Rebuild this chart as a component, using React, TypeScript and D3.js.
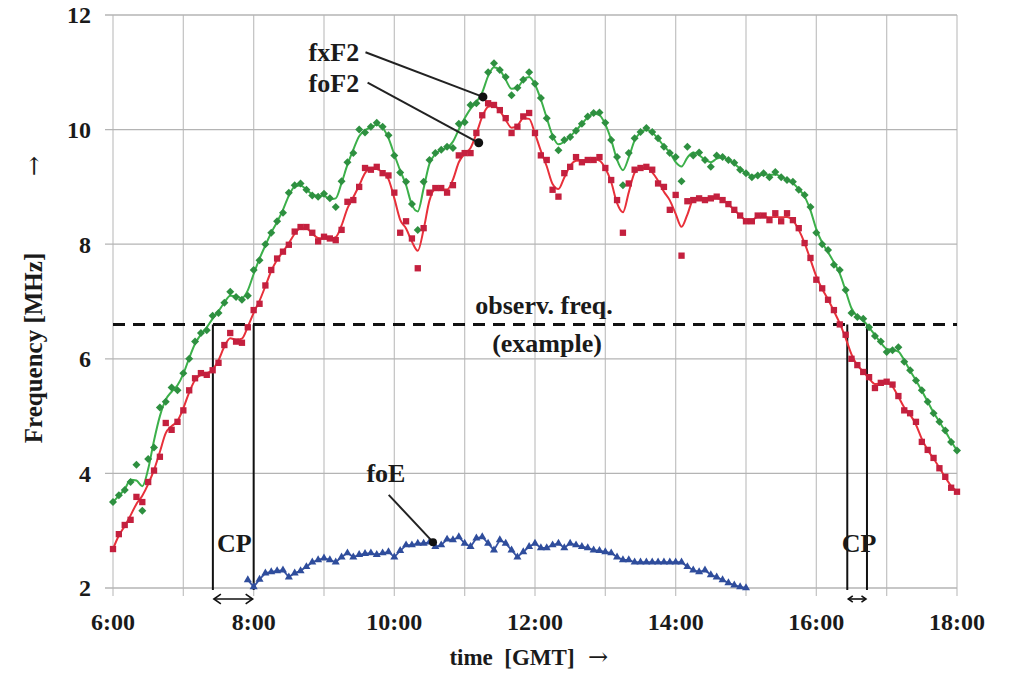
import React from 'react';
import * as d3 from 'd3';

// samples every 5 minutes starting at 6:00 GMT
const startHour = 6;
const stepMinutes = 5;

// fxF2 (green diamonds), MHz
const fxF2 = [
  3.5, 3.62, 3.71, 3.85, 4.15, 3.35, 4.25, 4.45, 5.15, 5.25, 5.5, 5.45,
  5.75, 6.0, 6.3, 6.45, 6.5, 6.75, 6.8, 6.98, 7.17, 7.08, 7.03, 7.1,
  7.55, 7.72, 8.0, 8.2, 8.4, 8.55, 8.9, 9.03, 9.06, 8.95, 8.85, 8.83,
  8.88, 8.8, 8.65, 9.1, 9.43, 9.59, 10.0, 9.95, 10.05, 10.12, 10.05, 9.9,
  9.55, 9.25, 9.09, 8.7, 8.25, 9.09, 9.47, 9.59, 9.65, 9.7, 9.68, 10.1,
  10.13, 10.43, 10.46, 10.57, 11.0, 11.16, 11.04, 10.92, 10.6, 10.73, 10.87, 11.0,
  10.8, 10.55, 10.2, 9.87, 9.64, 9.82, 9.87, 9.98, 10.1, 10.23, 10.29, 10.3,
  10.12, 9.82, 9.52, 9.03, 9.59, 9.85, 9.96, 10.03, 9.96, 9.85, 9.7, 9.59,
  9.52, 9.1, 9.7, 9.55, 9.6, 9.47, 9.35, 9.55, 9.52, 9.47, 9.42, 9.3,
  9.24, 9.17, 9.2, 9.24, 9.17, 9.26, 9.17, 9.12, 9.09, 8.95, 8.86, 8.65,
  8.2, 8.0, 7.9, 7.64, 7.55, 7.2, 6.8, 6.73, 6.7, 6.55, 6.4, 6.3,
  6.12, 6.15, 6.2, 5.95, 5.8, 5.62, 5.45, 5.25, 5.05, 4.9, 4.75, 4.55,
  4.4,
];

// foF2 (red squares), MHz
const foF2 = [
  2.68, 2.94, 3.1, 3.19, 3.59, 3.5, 3.85, 4.05, 4.29, 4.88, 4.76, 4.9,
  5.1, 5.45, 5.66, 5.75, 5.72, 5.8, 5.93, 6.24, 6.45, 6.3, 6.28, 6.55,
  6.85, 6.96, 7.28, 7.55, 7.75, 7.87, 7.99, 8.22, 8.3, 8.3, 8.2, 8.05,
  8.13, 8.1, 8.07, 8.25, 8.74, 8.77, 9.0, 9.33, 9.3, 9.35, 9.24, 9.2,
  8.9, 8.2, 8.4, 8.1, 7.58, 8.28, 8.9, 8.98, 8.98, 8.9, 9.03, 9.55,
  9.59, 9.59, 9.94, 10.25, 10.46, 10.43, 10.34, 10.2, 9.94, 10.05, 10.23, 10.29,
  9.94, 9.55, 9.47, 8.95, 8.83, 9.24, 9.35, 9.52, 9.43, 9.47, 9.47, 9.52,
  9.33, 9.12, 8.77, 8.2, 9.06, 9.3, 9.33, 9.35, 9.3, 9.06, 9.0, 8.6,
  8.86, 7.8, 8.75, 8.77, 8.8, 8.77, 8.8, 8.83, 8.77, 8.7, 8.6, 8.5,
  8.4, 8.4, 8.5, 8.5, 8.42, 8.54, 8.4, 8.54, 8.42, 8.28, 8.02, 7.76,
  7.38, 7.23, 7.03, 6.85, 6.6, 6.42, 6.0, 5.89, 5.77, 5.68, 5.49, 5.58,
  5.6, 5.55, 5.35, 5.1, 5.05, 4.9, 4.55, 4.41, 4.27, 4.09, 3.94, 3.75,
  3.68,
];

// foE (blue triangles), MHz, first sample at 7:55
const foEStartIndex = 23;
const foE = [
  2.14, 2.02, 2.15, 2.26, 2.28, 2.3, 2.31, 2.19, 2.26, 2.3, 2.37, 2.45,
  2.49, 2.52, 2.49, 2.45, 2.54, 2.61, 2.54, 2.58, 2.6, 2.61, 2.58, 2.61,
  2.63, 2.54, 2.65, 2.75, 2.75, 2.78, 2.78, 2.8, 2.72, 2.75, 2.85, 2.84,
  2.89, 2.78, 2.72, 2.87, 2.89, 2.78, 2.66, 2.84, 2.78, 2.66, 2.54, 2.63,
  2.72, 2.78, 2.7, 2.7, 2.75, 2.78, 2.7, 2.78, 2.75, 2.72, 2.7, 2.66,
  2.65, 2.63, 2.61, 2.54, 2.49, 2.49, 2.45, 2.45, 2.45, 2.45, 2.45, 2.45,
  2.45, 2.45, 2.45, 2.37, 2.31, 2.28, 2.31, 2.23, 2.19, 2.14, 2.09, 2.05,
  2.02, 2.0,
];

const hourLabels = ['6:00', '8:00', '10:00', '12:00', '14:00', '16:00', '18:00'];
const freqTicks = [2, 4, 6, 8, 10, 12];
const observFreq = 6.6;
// cut-off points (hours) where the curves cross the observing frequency
const cpPairs = [[7.42, 8.0], [16.44, 16.72]];

const W = 1020;
const H = 677;
const x = d3.scaleLinear().domain([6, 18]).range([113, 957]);
const y = d3.scaleLinear().domain([2, 12]).range([588, 15]);

const hourOf = (i: number) => startHour + (i * stepMinutes) / 60;

// simple 1-2-1 smoothing for the trend lines
function smooth(vals: number[]) {
  return vals.map((v, i) => {
    if (i === 0 || i === vals.length - 1) return v;
    return (vals[i - 1] + 2 * v + vals[i + 1]) / 4;
  });
}

const font = '"Liberation Serif", "Times New Roman", serif';
const arrowFont = '"DejaVu Serif", serif';

// little double headed arrow between two x positions
function DoubleArrow({ x1, x2, yy, head }: { x1: number; x2: number; yy: number; head: number }) {
  const h = head;
  return (
    <g stroke="#111" strokeWidth={1.6} fill="none">
      <line x1={x1} x2={x2} y1={yy} y2={yy} />
      <polyline points={`${x1 + h},${yy - h * 0.7} ${x1},${yy} ${x1 + h},${yy + h * 0.7}`} />
      <polyline points={`${x2 - h},${yy - h * 0.7} ${x2},${yy} ${x2 - h},${yy + h * 0.7}`} />
    </g>
  );
}

export default function App() {
  const greenPts = fxF2.map((v, i) => [hourOf(i), v] as [number, number]);
  const redPts = foF2.map((v, i) => [hourOf(i), v] as [number, number]);
  const bluePts = foE.map((v, i) => [hourOf(i + foEStartIndex), v] as [number, number]);

  const line = d3.line<[number, number]>()
    .x(d => x(d[0]))
    .y(d => y(d[1]))
    .curve(d3.curveMonotoneX);

  const greenLine = line(smooth(fxF2).map((v, i) => [hourOf(i), v]));
  const redLine = line(smooth(foF2).map((v, i) => [hourOf(i), v]));
  const blueLine = d3.line<[number, number]>().x(d => x(d[0])).y(d => y(d[1]))(bluePts);

  const square = d3.symbol().type(d3.symbolSquare).size(40)();
  const diamond = d3.symbol().type(d3.symbolSquare).size(32)();
  const triangle = d3.symbol().type(d3.symbolTriangle).size(28)();

  const hours = d3.range(6, 19);

  return (
    <svg width={W} height={H} style={{ position: 'absolute', left: 0, top: 0, background: '#fff' }}
      fontFamily={font} fontWeight="bold">
      {/* grid */}
      {hours.map(h => (
        <line key={'v' + h} x1={x(h)} x2={x(h)} y1={y(12)} y2={y(2) + 8} stroke="#c6c6c6" strokeWidth={1.3} />
      ))}
      {freqTicks.map(f => (
        <line key={'h' + f} x1={x(6) - 8} x2={x(18)} y1={y(f)} y2={y(f)} stroke="#b4b4b4" strokeWidth={1.3} />
      ))}

      {/* tick labels */}
      {freqTicks.map(f => (
        <text key={'yl' + f} x={91} y={y(f)} dy="0.35em" textAnchor="end" fontSize={24} fill="#1a1a1a">{f}</text>
      ))}
      {hourLabels.map((lab, i) => (
        <text key={'xl' + lab} x={x(6 + i * 2)} y={630} textAnchor="middle" fontSize={24} fill="#1a1a1a">{lab}</text>
      ))}

      {/* axis titles */}
      <text x={512} y={665} textAnchor="middle" fontSize={23} fill="#1a1a1a" style={{ whiteSpace: 'pre' }}>{'time  [GMT]'}</text>
      <text x={588} y={665} fontSize={24} fontFamily={arrowFont} fontWeight="normal" fill="#1a1a1a">{'\u2192'}</text>
      <text transform={`translate(42,348) rotate(-90)`} textAnchor="middle" fontSize={25} fill="#1a1a1a">Frequency [MHz]</text>
      <text transform={`translate(42,166) rotate(-90)`} textAnchor="middle" fontSize={24} fontFamily={arrowFont} fontWeight="normal" fill="#1a1a1a">{'\u2192'}</text>

      {/* observing frequency */}
      <line x1={x(6)} x2={x(18)} y1={y(observFreq)} y2={y(observFreq)} stroke="#111" strokeWidth={3} strokeDasharray="12 8" />
      <text x={544} y={y(observFreq) - 10} textAnchor="middle" fontSize={26} fill="#1a1a1a">observ. freq.</text>
      <text x={547} y={y(observFreq) + 28} textAnchor="middle" fontSize={26} fill="#1a1a1a">(example)</text>

      {/* CP markers */}
      {cpPairs.map((pair, k) => (
        <g key={'cp' + k}>
          {pair.map(t => (
            <line key={t} x1={x(t)} x2={x(t)} y1={y(observFreq)} y2={y(2) + 2} stroke="#111" strokeWidth={2} />
          ))}
          <DoubleArrow x1={x(pair[0]) + 1} x2={x(pair[1]) - 1} yy={599} head={k === 0 ? 7 : 4.5} />
          <text x={(x(pair[0]) + x(pair[1])) / 2 + (k === 0 ? 1 : 2)} y={552} textAnchor="middle" fontSize={26} fill="#1a1a1a">CP</text>
        </g>
      ))}

      {/* series lines */}
      <path d={greenLine || ''} fill="none" stroke="#3cb04a" strokeWidth={2} />
      <path d={redLine || ''} fill="none" stroke="#e8303a" strokeWidth={2} />
      <path d={blueLine || ''} fill="none" stroke="#3652a3" strokeWidth={1.8} />

      {/* markers */}
      {greenPts.map((d, i) => (
        <path key={'g' + i} d={diamond} transform={`translate(${x(d[0])},${y(d[1])}) rotate(45)`} fill="#2e9040" />
      ))}
      {redPts.map((d, i) => (
        <path key={'r' + i} d={square} transform={`translate(${x(d[0])},${y(d[1])})`} fill="#c4203e" />
      ))}
      {bluePts.map((d, i) => (
        <path key={'b' + i} d={triangle} transform={`translate(${x(d[0])},${y(d[1])})`} fill="#2f4d9c" />
      ))}

      {/* callouts */}
      <text x={x(9.5)} y={y(11.2)} textAnchor="end" fontSize={26} fill="#1a1a1a">fxF2</text>
      <line x1={x(9.59)} x2={x(11.26)} y1={y(11.35)} y2={y(10.57)} stroke="#222" strokeWidth={2} />
      <circle cx={x(11.26)} cy={y(10.57)} r={4.5} fill="#111" />
      <text x={x(9.5)} y={y(10.65)} textAnchor="end" fontSize={26} fill="#1a1a1a">foF2</text>
      <line x1={x(9.62)} x2={x(11.2)} y1={y(10.82)} y2={y(9.77)} stroke="#222" strokeWidth={2} />
      <circle cx={x(11.2)} cy={y(9.77)} r={4.5} fill="#111" />
      <text x={x(9.88)} y={y(3.85)} textAnchor="middle" fontSize={26} fill="#1a1a1a">foE</text>
      <line x1={x(9.92)} x2={x(10.55)} y1={y(3.87) + 14} y2={y(2.8)} stroke="#222" strokeWidth={2} />
      <circle cx={x(10.55)} cy={y(2.8)} r={4} fill="#111" />
    </svg>
  );
}
